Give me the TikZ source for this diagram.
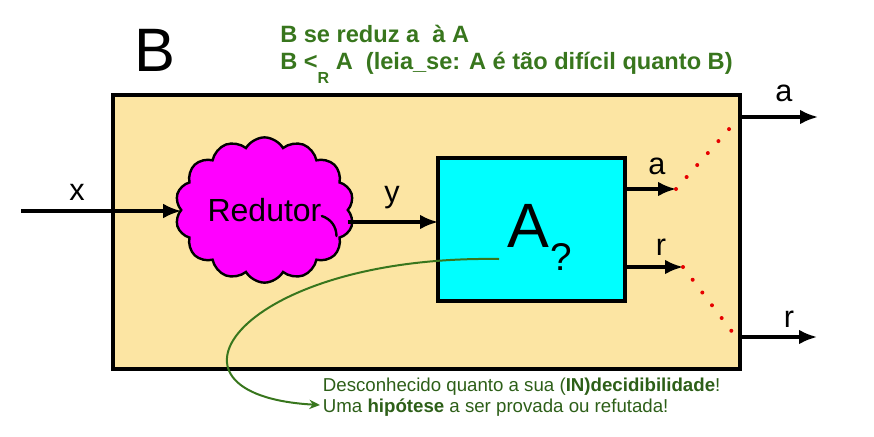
\documentclass[tikz,border=0pt]{standalone}
\usepackage{fontspec}
\setmainfont{Liberation Sans}
\usetikzlibrary{arrows.meta,shapes.symbols}
\definecolor{boxfill}{RGB}{252,229,163}
\definecolor{titlegreen}{RGB}{56,118,29}
\definecolor{notegreen}{RGB}{45,95,24}
\definecolor{dotred}{RGB}{230,0,0}
\definecolor{cloudmag}{RGB}{255,0,255}
\definecolor{boxcyan}{RGB}{0,255,255}
\tikzset{
  flow/.style={line width=2.3pt,-{Latex[length=13.5pt,width=11pt]}},
  lbl/.style={font=\fontsize{23}{23}\selectfont, inner sep=0pt, anchor=base},
  dotline/.style={dotred, line width=3pt, line cap=round, dash pattern=on 0pt off 12pt},
  heading/.style={font=\fontsize{17.7}{17.7}\selectfont\bfseries, text=titlegreen, inner sep=0pt, anchor=base west},
}
\begin{document}
\begin{tikzpicture}[x=0.75pt,y=-0.75pt]
\useasboundingbox (0,0) rectangle (874,436);
% big title B
\node[font=\fontsize{46}{46}\selectfont, inner sep=0pt, anchor=base west] (bigB) at (134,71) {B};
% green heading
\node[heading] (t1) at (280,42) {B se reduz a\ \ à A};
\node[heading] (t2) at (280,69) {B <\raisebox{-11pt}{\fontsize{12}{12}\selectfont R} A\ \ (leia\_se: A é tão difícil quanto B)};
% outer box
\node[draw, line width=2.6pt, fill=boxfill, minimum width=470.25pt, minimum height=205.5pt, outer sep=0pt, inner sep=0pt] (Bbox) at (426.5,232) {};
% reducer cloud
\node[cloud, cloud puffs=14, cloud puff arc=120, aspect=1.26, draw, line width=1.8pt, fill=cloudmag, minimum width=134pt, minimum height=106pt, inner sep=0pt, outer sep=0pt, font=\fontsize{24}{24}\selectfont] (cloud) at (264.5,210) {Redutor};
\draw[line width=1.8pt, line cap=round] ([shift={(43pt,-4.5pt)}]cloud.center) to[bend left=35] ([shift={(54pt,-19.5pt)}]cloud.center);
% A box
\node[draw, line width=2.4pt, fill=boxcyan, minimum width=140.25pt, minimum height=107.25pt, outer sep=0pt, inner sep=0pt] (Abox) at (531.5,229.5) {};
\node[font=\fontsize{47}{47}\selectfont, inner sep=0pt, anchor=base west] (Aname) at (507,247) {A};
\node[font=\fontsize{29}{29}\selectfont, inner sep=0pt, anchor=base west] (Aq) at (550,270) {?};
% coordinates
\coordinate (xin) at (21,211);
\coordinate (ylev) at (0,222);
\coordinate (aend) at (676,189);
\coordinate (rend) at (683,267);
\coordinate (atop) at (730,128);
\coordinate (rbot) at (733,333);
\coordinate (aout) at (818,117);
\coordinate (rout) at (817,337);
\coordinate (gs) at (499,259);
% arrows
\draw[flow] (xin) -- (cloud.west |- xin);
\draw[flow] (cloud.east |- ylev) -- (Abox.west |- ylev);
\draw[flow] (Abox.east |- aend) -- (aend);
\draw[flow] (Abox.east |- rend) -- (rend);
\draw[flow] (Bbox.east |- aout) -- (aout);
\draw[flow] (Bbox.east |- rout) -- (rout);
% dotted red
\draw[dotline] (aend) -- (atop);
\draw[dotline] (rend) -- (rbot);
% labels
\node[lbl] (lx) at (77,200) {x};
\node[lbl] (ly) at (392,202) {y};
\node[lbl] (la) at (657,174) {a};
\node[lbl] (lr) at (661,255) {r};
\node[lbl] (lao) at (784,101) {a};
\node[lbl] (lro) at (789,327) {r};
% note
\node[font=\fontsize{14}{15.75}\selectfont, text=notegreen, align=left, anchor=west, inner sep=2pt] (note) at (320,397)
  {Desconhecido quanto a sua (\textbf{IN)decidibilidade}!\\Uma \textbf{hipótese} a ser provada ou refutada!};
\draw[titlegreen, line width=1.5pt, -{Stealth[length=8pt,width=7pt]}] (gs) .. controls (240,255) and (140,395) .. ([yshift=-6pt]note.west);
\end{tikzpicture}
\end{document}
